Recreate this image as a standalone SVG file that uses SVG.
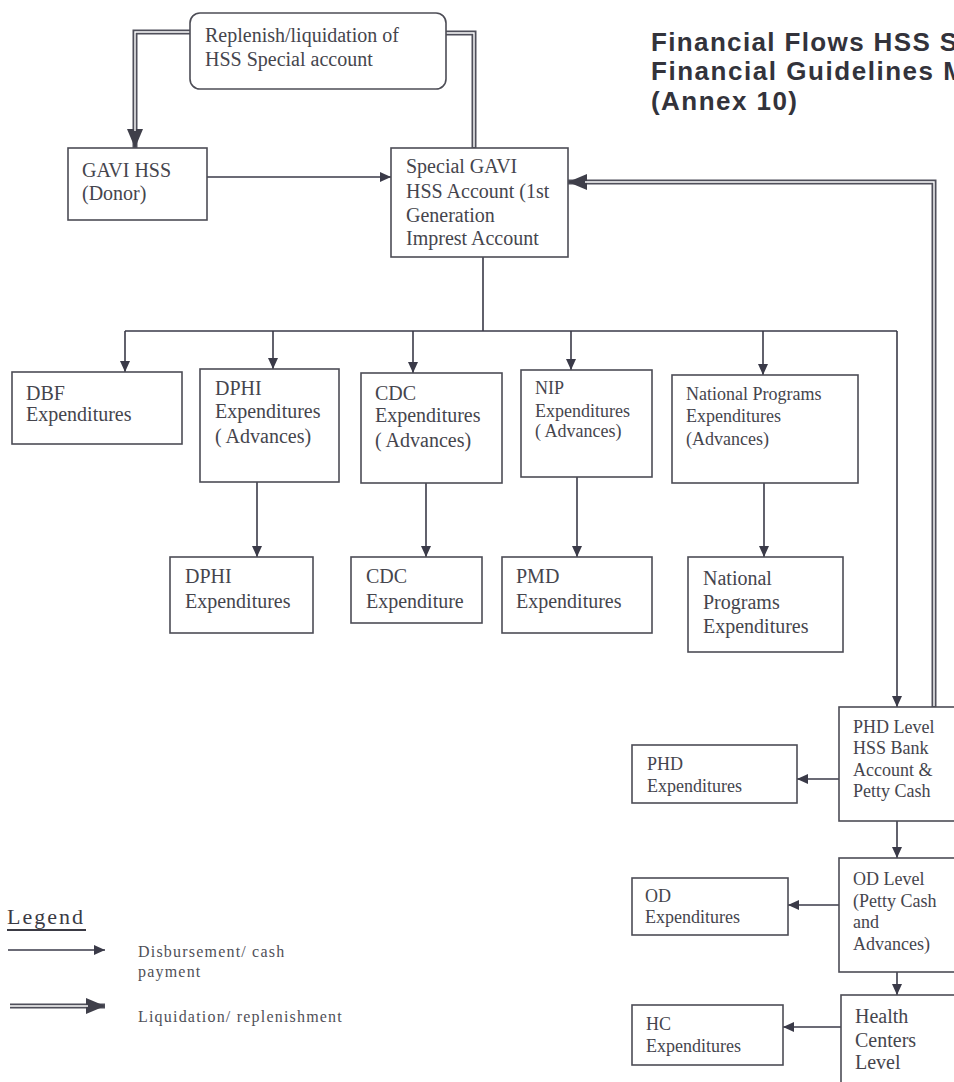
<svg xmlns="http://www.w3.org/2000/svg" width="954" height="1082" viewBox="0 0 954 1082">
<defs>
<style>
.box{fill:#fff;stroke:#4d4d56;stroke-width:1.6}
.t{font-family:"Liberation Serif","Times New Roman",serif;font-size:20px;fill:#45454d}
.s{font-size:18px}
.ln{fill:none;stroke:#3a3a48;stroke-width:1.6}
.dO{fill:none;stroke:#4f4f5a;stroke-width:5;stroke-linejoin:miter}
.dI{fill:none;stroke:#fff;stroke-width:1.4;stroke-linejoin:miter}
.title{font-family:"Liberation Sans",Arial,sans-serif;font-weight:bold;font-size:26px;fill:#33333b}
.lg{font-family:"Liberation Serif","Times New Roman",serif;font-size:16px;fill:#505058;letter-spacing:1.2px}
</style>
<marker id="a" markerUnits="userSpaceOnUse" markerWidth="12" markerHeight="10" refX="11" refY="5" orient="auto">
<path d="M0,0 L11,5 L0,10 z" fill="#3a3a48"/>
</marker>
<marker id="b" markerUnits="userSpaceOnUse" markerWidth="20" markerHeight="16" refX="19" refY="8" orient="auto">
<path d="M0,0 L19,8 L0,16 z" fill="#3f3f4a"/>
</marker>
</defs>
<rect width="954" height="1082" fill="#fff"/>

<g id="title">
<text class="title" x="651" y="51" textLength="306" lengthAdjust="spacing">Financial Flows HSS S</text>
<text class="title" x="651" y="80" textLength="314" lengthAdjust="spacing">Financial Guidelines M</text>
<text class="title" x="651" y="110" textLength="146" lengthAdjust="spacing">(Annex 10)</text>
</g>

<g id="connectors">
<path class="ln" d="M483,257 V331 M125,331 H897"/>
<path class="ln" d="M897,331 V707" marker-end="url(#a)"/>
<path class="ln" d="M125,331 V372" marker-end="url(#a)"/>
<path class="ln" d="M273,331 V369" marker-end="url(#a)"/>
<path class="ln" d="M413,331 V373" marker-end="url(#a)"/>
<path class="ln" d="M571,331 V370" marker-end="url(#a)"/>
<path class="ln" d="M763,331 V375" marker-end="url(#a)"/>
<path class="ln" d="M257,482 V557" marker-end="url(#a)"/>
<path class="ln" d="M426,483 V557" marker-end="url(#a)"/>
<path class="ln" d="M577,477 V557" marker-end="url(#a)"/>
<path class="ln" d="M764,483 V557" marker-end="url(#a)"/>
<path class="ln" d="M207,177 H391" marker-end="url(#a)"/>
<path class="ln" d="M839,779 H797" marker-end="url(#a)"/>
<path class="ln" d="M839,905 H788" marker-end="url(#a)"/>
<path class="ln" d="M841,1027 H783" marker-end="url(#a)"/>
<path class="ln" d="M897,821 V858" marker-end="url(#a)"/>
<path class="ln" d="M897,972 V995" marker-end="url(#a)"/>
<path class="dO" d="M190,32 H135 V148" marker-end="url(#b)"/>
<path class="dI" d="M190,32 H135 V131"/>
<path class="dO" d="M446,33 H474 V148"/>
<path class="dI" d="M446,33 H474 V147"/>
<path class="dO" d="M934,707 V182 H568" marker-end="url(#b)"/>
<path class="dI" d="M934,706 V182 H585"/>
</g>

<g id="n-replenish">
<rect class="box" x="190" y="13" width="256" height="76" rx="10"/>
<text class="t" x="205" y="42">Replenish/liquidation of</text>
<text class="t" x="205" y="66">HSS Special account</text>
</g>
<g id="n-gavi">
<rect class="box" x="68" y="148" width="139" height="72"/>
<text class="t" x="82" y="177">GAVI HSS</text>
<text class="t" x="82" y="200">(Donor)</text>
</g>
<g id="n-special">
<rect class="box" x="391" y="148" width="177" height="109"/>
<text class="t" x="406" y="173">Special GAVI</text>
<text class="t" x="406" y="198">HSS Account (1st</text>
<text class="t" x="406" y="222">Generation</text>
<text class="t" x="406" y="245">Imprest Account</text>
</g>
<g id="n-dbf">
<rect class="box" x="12" y="372" width="170" height="72"/>
<text class="t" x="26" y="400">DBF</text>
<text class="t" x="26" y="421">Expenditures</text>
</g>
<g id="n-dphi">
<rect class="box" x="200" y="369" width="139" height="113"/>
<text class="t" x="215" y="395">DPHI</text>
<text class="t" x="215" y="418">Expenditures</text>
<text class="t" x="215" y="443">( Advances)</text>
</g>
<g id="n-cdc">
<rect class="box" x="361" y="373" width="141" height="110"/>
<text class="t" x="375" y="400">CDC</text>
<text class="t" x="375" y="422">Expenditures</text>
<text class="t" x="375" y="447">( Advances)</text>
</g>
<g id="n-nip">
<rect class="box" x="521" y="370" width="131" height="107"/>
<text class="t s" x="535" y="394">NIP</text>
<text class="t s" x="535" y="417">Expenditures</text>
<text class="t s" x="535" y="437">( Advances)</text>
</g>
<g id="n-natprog">
<rect class="box" x="672" y="375" width="186" height="108"/>
<text class="t s" x="686" y="400">National Programs</text>
<text class="t s" x="686" y="422">Expenditures</text>
<text class="t s" x="686" y="445">(Advances)</text>
</g>
<g id="n-dphi-exp">
<rect class="box" x="170" y="557" width="143" height="76"/>
<text class="t" x="185" y="583">DPHI</text>
<text class="t" x="185" y="608">Expenditures</text>
</g>
<g id="n-cdc-exp">
<rect class="box" x="351" y="557" width="131" height="66"/>
<text class="t" x="366" y="583">CDC</text>
<text class="t" x="366" y="608">Expenditure</text>
</g>
<g id="n-pmd">
<rect class="box" x="502" y="557" width="150" height="76"/>
<text class="t" x="516" y="583">PMD</text>
<text class="t" x="516" y="608">Expenditures</text>
</g>
<g id="n-natprog-exp">
<rect class="box" x="688" y="557" width="155" height="95"/>
<text class="t" x="703" y="585">National</text>
<text class="t" x="703" y="609">Programs</text>
<text class="t" x="703" y="633">Expenditures</text>
</g>
<g id="n-phd">
<rect class="box" x="839" y="707" width="130" height="114"/>
<text class="t s" x="853" y="733">PHD Level</text>
<text class="t s" x="853" y="754">HSS Bank</text>
<text class="t s" x="853" y="776">Account &amp;</text>
<text class="t s" x="853" y="797">Petty Cash</text>
</g>
<g id="n-phd-exp">
<rect class="box" x="632" y="745" width="165" height="58"/>
<text class="t s" x="647" y="770">PHD</text>
<text class="t s" x="647" y="792">Expenditures</text>
</g>
<g id="n-od">
<rect class="box" x="839" y="858" width="130" height="114"/>
<text class="t s" x="853" y="885">OD Level</text>
<text class="t s" x="853" y="907">(Petty Cash</text>
<text class="t s" x="853" y="928">and</text>
<text class="t s" x="853" y="950">Advances)</text>
</g>
<g id="n-od-exp">
<rect class="box" x="632" y="878" width="156" height="57"/>
<text class="t s" x="645" y="902">OD</text>
<text class="t s" x="645" y="923">Expenditures</text>
</g>
<g id="n-hc">
<rect class="box" x="841" y="995" width="130" height="100"/>
<text class="t" x="855" y="1023">Health</text>
<text class="t" x="855" y="1047">Centers</text>
<text class="t" x="855" y="1069">Level</text>
</g>
<g id="n-hc-exp">
<rect class="box" x="632" y="1005" width="151" height="60"/>
<text class="t s" x="646" y="1030">HC</text>
<text class="t s" x="646" y="1052">Expenditures</text>
</g>

<g id="legend">
<text x="7" y="924" font-family="Liberation Serif, Times New Roman, serif" font-size="22" fill="#3a3a44" letter-spacing="2">Legend</text>
<line x1="7" y1="930" x2="86" y2="930" stroke="#3a3a44" stroke-width="2"/>
<path class="ln" d="M8,950 H105" marker-end="url(#a)"/>
<path class="dO" d="M10,1006 H105" marker-end="url(#b)"/>
<path class="dI" d="M10,1006 H88"/>
<text class="lg" x="138" y="957">Disbursement/ cash</text>
<text class="lg" x="138" y="977">payment</text>
<text class="lg" x="138" y="1022">Liquidation/ replenishment</text>
</g>
</svg>
